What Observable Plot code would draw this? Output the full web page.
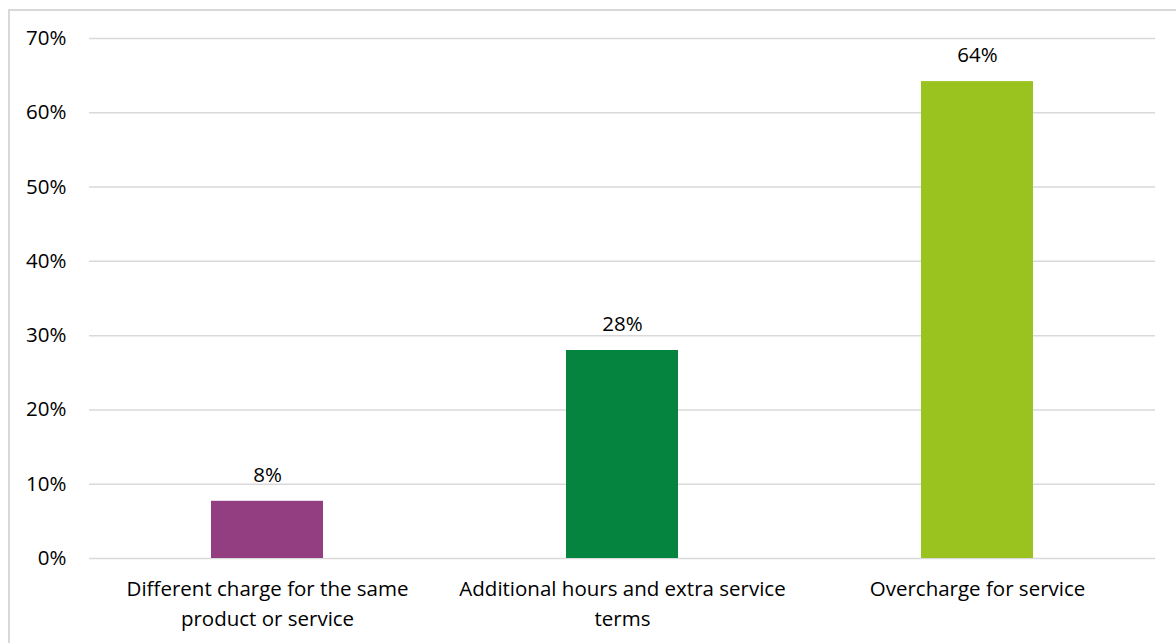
<!DOCTYPE html>
<html>
<head>
<meta charset="utf-8">
<script src="https://cdn.jsdelivr.net/npm/d3@7"></script>
<script src="https://cdn.jsdelivr.net/npm/@observablehq/plot@0.6"></script>
<style>
  html, body { margin: 0; padding: 0; background: #fff; overflow: hidden; }
  #wrap { position: relative; width: 1176px; height: 643px; }
  #border { position: absolute; left: 8px; top: 9px; width: 1200px; height: 700px; border: 2px solid #d9d9d9; box-sizing: border-box; }
  #chart { position: absolute; left: 0; top: 0; }
</style>
</head>
<body>
<div id="wrap">
  <div id="border"></div>
  <div id="chart"></div>
</div>
<script>
const categories = [
  "Different charge for the same product or service",
  "Additional hours and extra service terms",
  "Overcharge for service"
];
const tickLabels = [
  "Different charge for the same\nproduct or service",
  "Additional hours and extra service\nterms",
  "Overcharge for service"
];
const values = [7.7, 28.0, 64.2];
const valueLabels = ["8%", "28%", "64%"];
const colors = ["#943E82", "#05843F", "#9BC31F"];
const yTicks = [0, 10, 20, 30, 40, 50, 60, 70];

const data = categories.map((c, i) => ({category: c, value: values[i], label: valueLabels[i], color: colors[i]}));
const font = "'Open Sans', Lato, sans-serif";
const fs = 20.5;

const chart = Plot.plot({
  width: 1176,
  height: 643,
  marginLeft: 89,
  marginRight: 21,
  marginTop: 38,
  marginBottom: 85,
  style: {fontFamily: font, fontSize: fs + "px", color: "#000", background: "transparent"},
  x: {domain: categories, paddingInner: 0.685, paddingOuter: 0.3425, label: null},
  y: {domain: [0, 70], label: null},
  marks: [
    Plot.ruleY(yTicks, {stroke: "#d9d9d9", strokeWidth: 1.5}),
    Plot.barY(data, {x: "category", y: "value", fill: "color"}),
    Plot.text(data, {x: "category", y: "value", text: "label", dy: -26, lineAnchor: "middle", fill: "#000", fontSize: fs}),
    Plot.axisY({ticks: yTicks, tickSize: 0, tickPadding: 23, tickFormat: d => d + "%", fill: "#000", fontSize: fs, label: null}),
    Plot.axisX({tickSize: 0, tickPadding: 16, lineHeight: 1.46, tickFormat: d => tickLabels[categories.indexOf(d)], fill: "#000", fontSize: fs, label: null})
  ]
});
document.getElementById("chart").appendChild(chart);
</script>
</body>
</html>
